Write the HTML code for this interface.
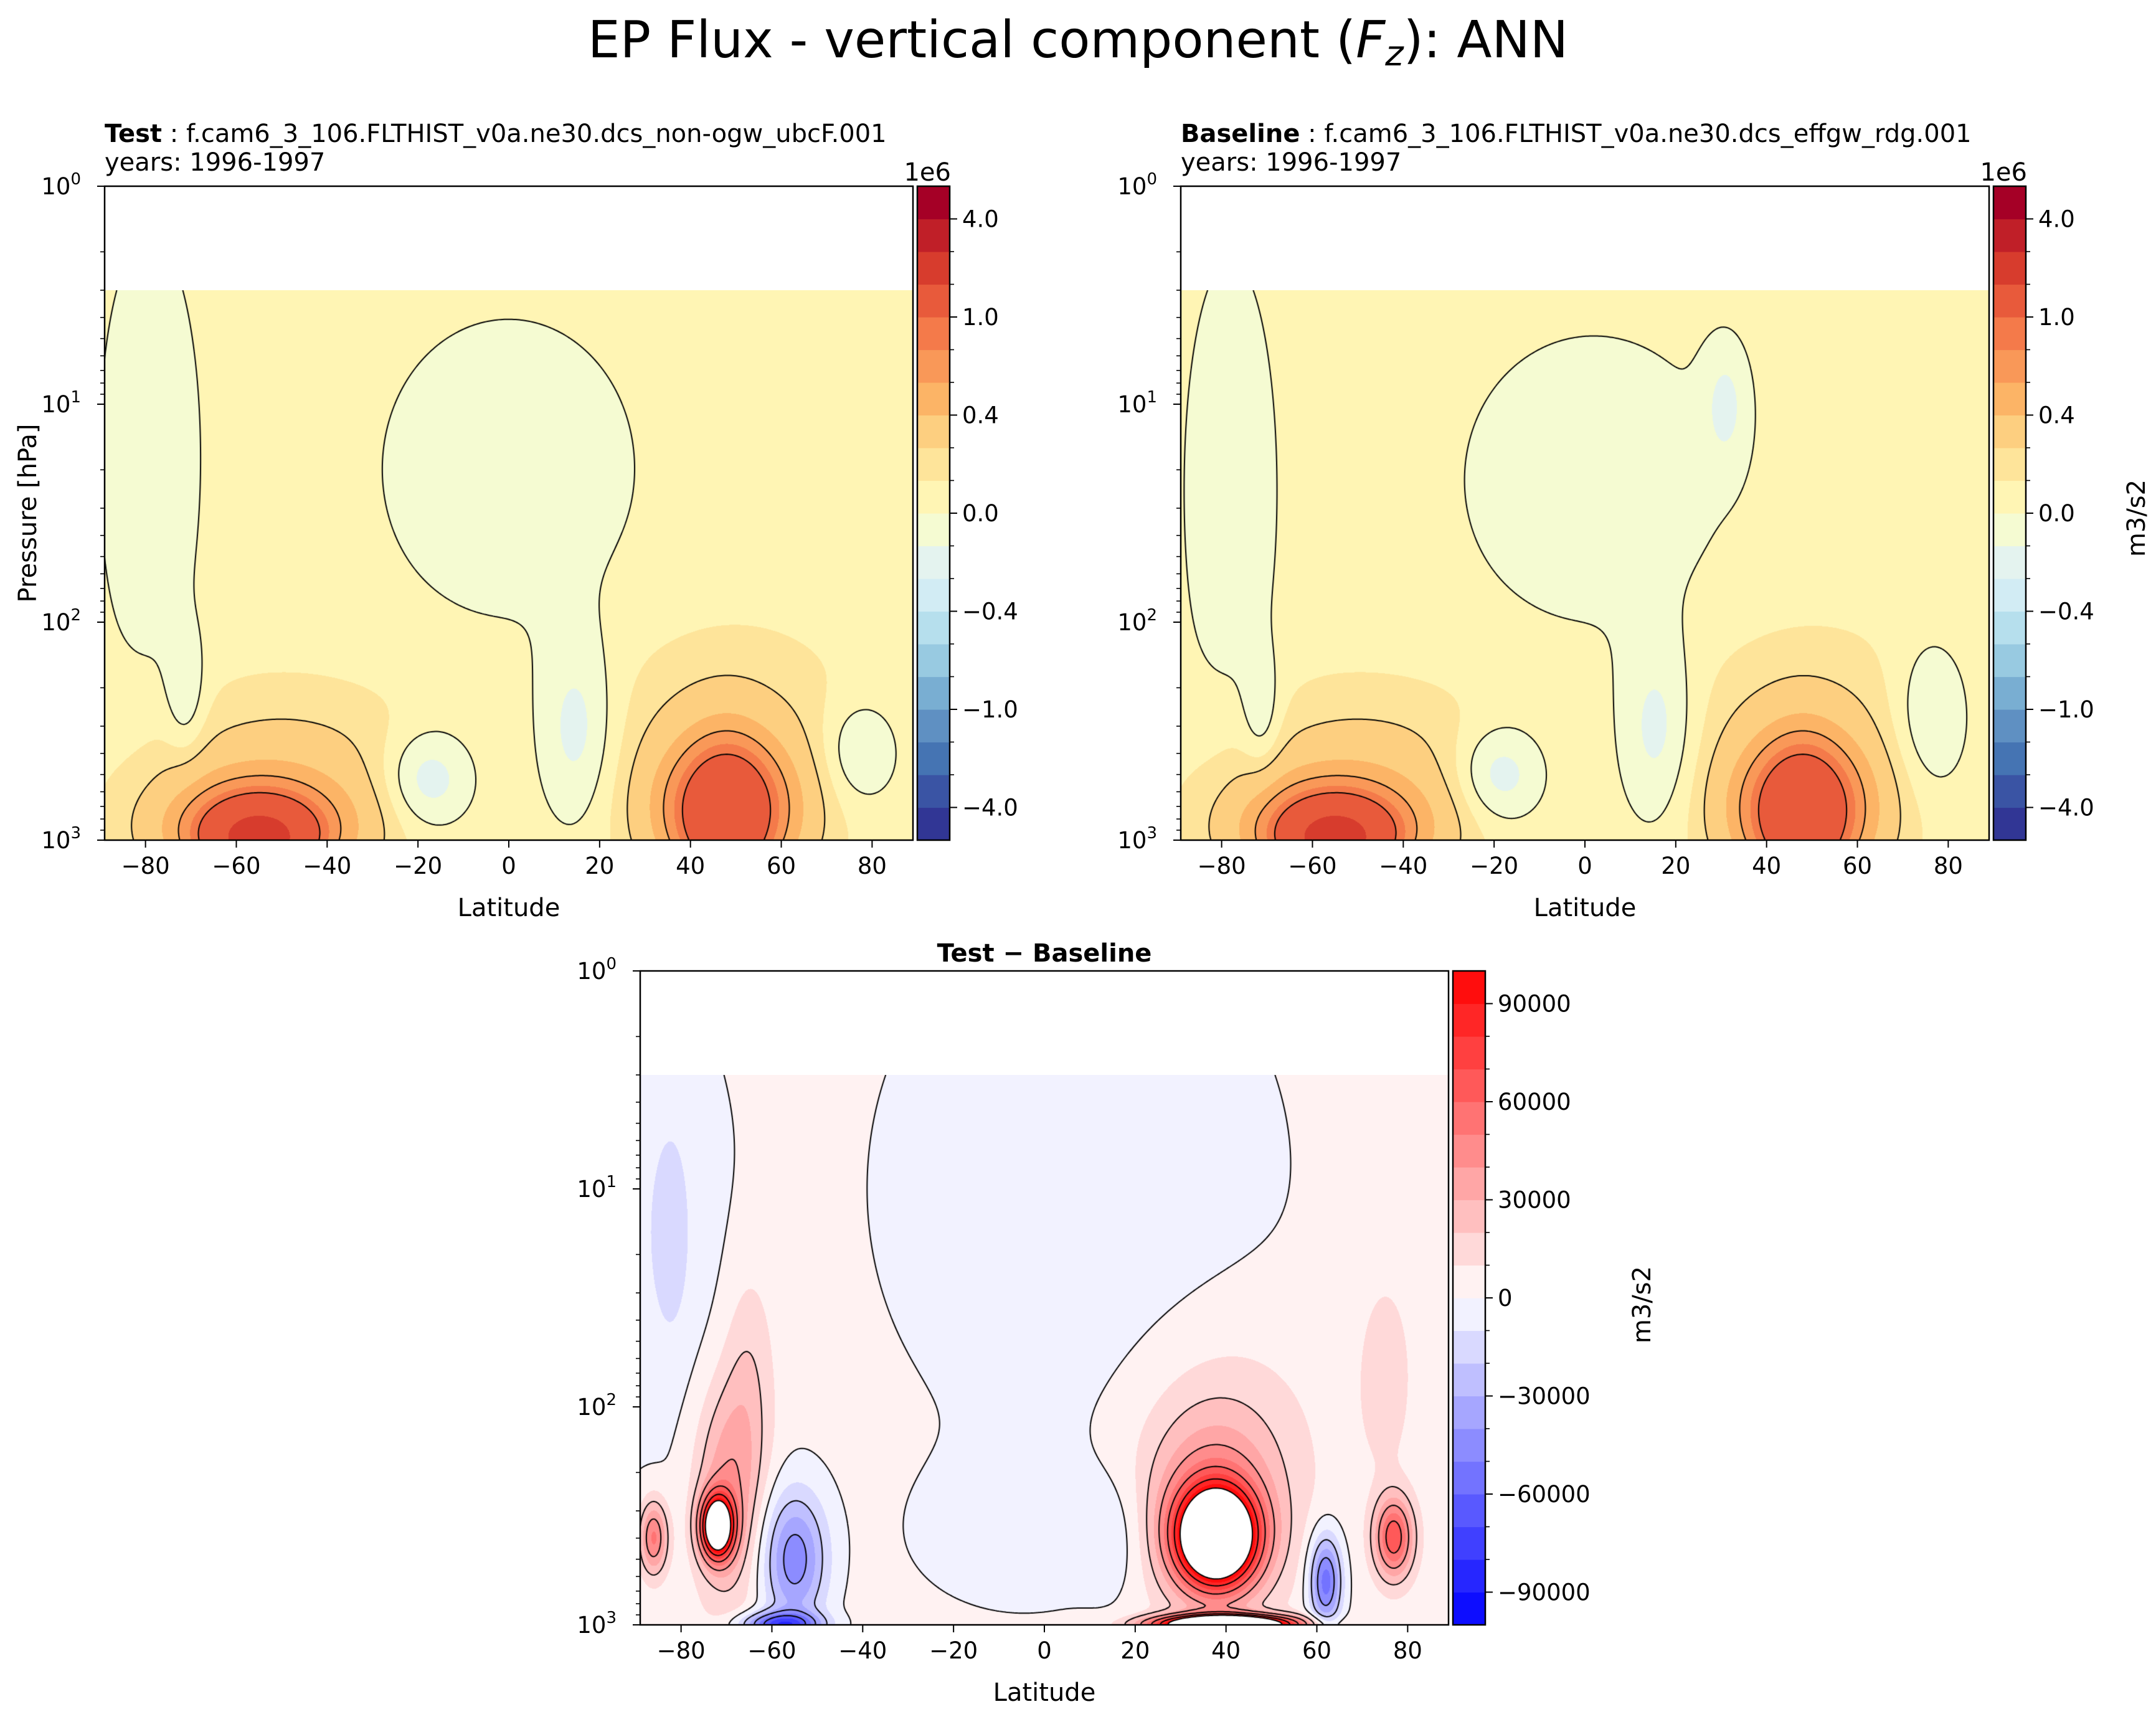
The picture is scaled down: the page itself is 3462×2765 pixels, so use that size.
<!DOCTYPE html>
<html><head><meta charset="utf-8">
<style>
html,body{margin:0;padding:0;background:#fff;}
#fig{position:relative;width:3462px;height:2765px;overflow:hidden;font-family:"DejaVu Sans","Liberation Sans",sans-serif;}
canvas{position:absolute;}
svg{position:absolute;left:0;top:0;}
</style></head>
<body>
<div id="fig">
<canvas id="c1"></canvas>
<canvas id="c2"></canvas>
<canvas id="c3"></canvas>
<svg id="ov" width="3462" height="2765"></svg>
</div>
<script>
// ---- data: Gaussian features of each field (amplitude, latitude centre/width, log10(p) centre/width)
const testBase = 0.05;
const testAmp  = [-0.12,-0.15,-0.12,-0.25,-0.2,-0.18,0.35,1.5,0.4,0.6,0.15,0.15,0.8,0.8];
const testLat  = [-79,-71,0,-18,15,77,-55,-55,48,48,-48,48,-55,48];
const testSLat = [8.4,3,21,7,6,6,17,7,13,6,22,18,12,9];
const testLp   = [1.25,2.35,1.3,2.72,2.5,2.6,2.95,3.0,2.9,2.95,2.6,2.45,2.95,2.85];
const testSLp  = [0.77,0.2,0.52,0.16,0.3,0.17,0.22,0.1,0.25,0.25,0.25,0.3,0.15,0.2];

const baseBase = 0.05;
const baseAmp  = [-0.12,-0.15,-0.12,-0.15,-0.25,-0.2,-0.18,0.35,1.5,0.4,0.6,0.15,0.15,0.8,0.8];
const baseLat  = [-78,-71,2,31,-19,16,76,-55,-55,48,48,-48,48,-55,48];
const baseSLat = [7.7,3,21.5,3.5,7,6,6,17,7,13,6,22,18,12,9];
const baseLp   = [1.4,2.45,1.35,1.0,2.7,2.5,2.45,2.95,3.0,2.9,2.95,2.6,2.45,2.95,2.85];
const baseSLp  = [0.8,0.2,0.5,0.2,0.16,0.3,0.25,0.22,0.1,0.25,0.25,0.25,0.3,0.15,0.2];

const diffBase = 4000;
const diffAmp  = [-12000,-10000,-11000,-8000,130000,35000,50000,-50000,-70000,150000,45000,200000,-60000,65000,14000,16000,12000,-9000];
const diffLat  = [-86,-82,8,-5,-72,-70,-86,-55,-58,38,37,40,62,77,75,-65,40,16];
const diffSLat = [12,2.5,33,18,2.5,5,2.2,5,6,6,10,10,2.5,3,4,4,15,5];
const diffLp   = [1.2,1.2,1.0,2.6,2.55,2.4,2.6,2.7,3.0,2.6,2.5,3.0,2.8,2.6,1.85,1.9,2.1,2.6];
const diffSLp  = [0.8,0.3,0.9,0.25,0.1,0.35,0.12,0.22,0.04,0.15,0.3,0.03,0.15,0.13,0.3,0.4,0.4,0.2];

const topBounds = [-5,-4,-3,-2,-1,-0.8,-0.6,-0.4,-0.2,-0.1,0,0.1,0.2,0.4,0.6,0.8,1,2,3,4,5];
const topColors = ['#313695','#3a54a4','#4574b3','#5f90c2','#79aed2','#98cae1','#b6dfed','#d2ecf4','#e4f3ef','#f5fbd2','#fff5b4','#fee49a','#fdcf80','#fcb466','#f99858','#f47a4a','#e85a3b','#d73c2d','#c01f28','#a50026'];
const topTickVals = [4.0,1.0,0.4,0.0,-0.4,-1.0,-4.0];
const topTickIdx  = [19,16,13,10,7,4,1];
const topContours = [0,0.2,0.6,1.0,3.0];

const diffBounds = [];
for (let i=0;i<=20;i++) diffBounds.push(-100000+10000*i);
const diffTickVals = [90000,60000,30000,0,-30000,-60000,-90000];
const diffContours = [-60000,-40000,-20000,0,20000,40000,60000,80000,100000];

const latTicks = [-80,-60,-40,-20,0,20,40,60,80];

// ---- geometry
const AW=1298, AH=1050, LAT0=-89, LAT1=89, LPTOP=0.477;
const panels = [
  {id:'c1', x:168, y:299, amp:testAmp, lat:testLat, sl:testSLat, lp:testLp, sp:testSLp, base:testBase, kind:'top'},
  {id:'c2', x:1896, y:299, amp:baseAmp, lat:baseLat, sl:baseSLat, lp:baseLp, sp:baseSLp, base:baseBase, kind:'top'},
  {id:'c3', x:1028, y:1559, amp:diffAmp, lat:diffLat, sl:diffSLat, lp:diffLp, sp:diffSLp, base:diffBase, kind:'diff'}
];
function xOf(lat){return (lat-LAT0)/(LAT1-LAT0)*AW;}
function yOf(lp){return lp/3*AH;}
function hex(h){return [parseInt(h.substr(1,2),16),parseInt(h.substr(3,2),16),parseInt(h.substr(5,2),16)];}
const topRGB = topColors.map(hex);
function diffColor(i){const v=(-95000+10000*i)/100000; if(v<0){const c=Math.round(255*(1+v));return [c,c,255];} const c=Math.round(255*(1-v)); return [255,c,c];}
function colorFor(kind,v){
  if(kind==='top'){ let i=0; while(i<19 && v>topBounds[i+1]) i++; return topRGB[i]; }
  if(v>100000||v<-100000) return [255,255,255];
  let i=Math.floor((v+100000)/10000); if(i>19)i=19; return diffColor(i);
}
function drawPanel(p){
  const cv=document.getElementById(p.id);
  const y0=Math.round(yOf(LPTOP)); const h=AH-y0;
  cv.width=AW; cv.height=h; cv.style.left=p.x+'px'; cv.style.top=(p.y+y0)+'px';
  const ctx=cv.getContext('2d');
  const n=p.amp.length;
  const fx=[],fy=[];
  for(let k=0;k<n;k++){
    const ax=new Float32Array(AW), ay=new Float32Array(h);
    for(let x=0;x<AW;x++){const la=LAT0+(x+0.5)/AW*(LAT1-LAT0); const d=(la-p.lat[k])/p.sl[k]; ax[x]=p.amp[k]*Math.exp(-0.5*d*d);}
    for(let y=0;y<h;y++){const lp=(y+y0+0.5)/AH*3; const d=(lp-p.lp[k])/p.sp[k]; ay[y]=Math.exp(-0.5*d*d);}
    fx.push(ax); fy.push(ay);
  }
  const field=(x,y)=>{let v=p.base; for(let k=0;k<n;k++) v+=fx[k][x]*fy[k][y]; return v;};
  const img=ctx.createImageData(AW,h);
  for(let y=0;y<h;y++) for(let x=0;x<AW;x++){
    const c=colorFor(p.kind,field(x,y)); const o=(y*AW+x)*4;
    img.data[o]=c[0];img.data[o+1]=c[1];img.data[o+2]=c[2];img.data[o+3]=255;
  }
  ctx.putImageData(img,0,0);
  const S=3, nx=Math.floor((AW-1)/S)+1, ny=Math.floor((h-1)/S)+1;
  const g=[]; for(let j=0;j<ny;j++){const r=new Float32Array(nx); for(let i=0;i<nx;i++) r[i]=field(i*S,j*S); g.push(r);}
  const levels = p.kind==='top'?topContours:diffContours;
  ctx.strokeStyle='#000'; ctx.lineWidth=2;
  for(const L of levels){
    ctx.beginPath();
    for(let j=0;j<ny-1;j++) for(let i=0;i<nx-1;i++){
      const a=g[j][i],b=g[j][i+1],c=g[j+1][i+1],d=g[j+1][i];
      const pts=[];
      const e=(v1,v2,x1,y1,x2,y2)=>{ if((v1<L)!==(v2<L)){const t=(L-v1)/(v2-v1); pts.push([x1+(x2-x1)*t,y1+(y2-y1)*t]);} };
      const X=i*S,Y=j*S;
      e(a,b,X,Y,X+S,Y); e(b,c,X+S,Y,X+S,Y+S); e(d,c,X,Y+S,X+S,Y+S); e(a,d,X,Y,X,Y+S);
      for(let q=0;q+1<pts.length;q+=2){ctx.moveTo(pts[q][0],pts[q][1]); ctx.lineTo(pts[q+1][0],pts[q+1][1]);}
    }
    ctx.stroke();
  }
}
panels.forEach(drawPanel);

// ---- axes overlay
const NS='http://www.w3.org/2000/svg';
const ov=document.getElementById('ov');
const FS=37, LFS=40;
function el(tag,attrs,parent){const e=document.createElementNS(NS,tag); for(const k in attrs) e.setAttribute(k,attrs[k]); (parent||ov).appendChild(e); return e;}
function txt(s,attrs,parent){const t=el('text',Object.assign({'font-size':FS,fill:'#000'},attrs),parent); t.textContent=s; return t;}

const title=txt('EP Flux - vertical component (',{x:1731,y:92,'font-size':82,'text-anchor':'middle'});


const tF=el('tspan',{'font-style':'italic'},title); tF.textContent='F';
const tz=el('tspan',{'font-style':'italic','font-size':56,dy:13},title); tz.textContent='z';
const tr=el('tspan',{dy:-13},title); tr.textContent='): ANN';

function axes(px,py,name,cbx,kind){
  const g=el('g',{});
  
  
  el('rect',{x:px,y:py,width:AW,height:AH,fill:'none',stroke:'#000','stroke-width':2.5},g);
  for(let d=0;d<=3;d++){
    const y=py+d*350;
    el('line',{x1:px-12,y1:y,x2:px,y2:y,stroke:'#000','stroke-width':2},g);
    const t=txt('10',{x:px-38,y:y+13,'text-anchor':'end'},g);
    
    
    const s=el('tspan',{'font-size':26,dy:-16},t); s.textContent=String(d);
    if(d<3) for(let m=2;m<=9;m++){const yy=y+Math.log10(m)*350; el('line',{x1:px-7,y1:yy,x2:px,y2:yy,stroke:'#000','stroke-width':1.6},g);}
  }
  for(const la of latTicks){
    const x=px+xOf(la);
    el('line',{x1:x,y1:py+AH,x2:x,y2:py+AH+12,stroke:'#000','stroke-width':2},g);
    const t=txt(la<0?'\u2212'+(-la):String(la),{x:x,y:py+AH+54,'text-anchor':'middle'},g);
    
    
  }
  const xl=txt('Latitude',{x:px+AW/2,y:py+AH+122,'text-anchor':'middle','font-size':LFS},g);
  
  
  const cw=52, bh=AH/20;
  const cb=el('g',{},g);
  
  
  for(let i=0;i<20;i++){
    const c = kind==='top'?topColors[i]:('rgb('+diffColor(i).join(',')+')');
    el('rect',{x:cbx,y:py+AH-(i+1)*bh,width:cw,height:bh+0.6,fill:c},cb);
    if(i>0) el('line',{x1:cbx+cw,y1:py+AH-i*bh,x2:cbx+cw+7,y2:py+AH-i*bh,stroke:'#000','stroke-width':1.6},cb);
  }
  el('rect',{x:cbx,y:py,width:cw,height:AH,fill:'none',stroke:'#000','stroke-width':2.5},cb);
  const vals = kind==='top'?topTickVals:diffTickVals;
  vals.forEach((v,k)=>{
    const idx = kind==='top'?topTickIdx[k]:(v+100000)/10000;
    const y=py+AH-idx*bh;
    el('line',{x1:cbx+cw,y1:y,x2:cbx+cw+12,y2:y,stroke:'#000','stroke-width':2},cb);
    const s = kind==='top'? (v<0?'\u2212'+(-v).toFixed(1):v.toFixed(1)) : (v<0?'\u2212'+(-v):String(v));
    const t=txt(s,{x:cbx+cw+20,y:y+13},cb);
    
    
  });
  return g;
}
axes(168,299,'test-panel',1473,'top');
axes(1896,299,'baseline-panel',3201,'top');
axes(1028,1559,'difference-panel',2333,'diff');

function label(s,x,y,name,extra){const t=txt(s,Object.assign({x:x,y:y,'font-size':LFS},extra||{}));   return t;}
const t1=label('',168,228,'test-title'); let b=el('tspan',{'font-weight':'bold'},t1); b.textContent='Test'; let r=el('tspan',{},t1); r.textContent=' : f.cam6_3_106.FLTHIST_v0a.ne30.dcs_non-ogw_ubcF.001';
label('years: 1996-1997',168,274,'test-years');
const t2=label('',1896,228,'baseline-title'); b=el('tspan',{'font-weight':'bold'},t2); b.textContent='Baseline'; r=el('tspan',{},t2); r.textContent=' : f.cam6_3_106.FLTHIST_v0a.ne30.dcs_effgw_rdg.001';
label('years: 1996-1997',1896,274,'baseline-years');
label('1e6',1527,290,'colorbar-offset',{'text-anchor':'end'});
label('1e6',3255,290,'colorbar-offset-baseline',{'text-anchor':'end'});
label('Pressure [hPa]',0,0,'y-axis-title',{transform:'translate(58,824) rotate(-90)','text-anchor':'middle'});
label('m3/s2',0,0,'colorbar-units',{transform:'translate(3444,832) rotate(-90)','text-anchor':'middle'});
label('m3/s2',0,0,'colorbar-units-diff',{transform:'translate(2650,2095) rotate(-90)','text-anchor':'middle'});
label('Test \u2212 Baseline',1677,1544,'difference-title',{'text-anchor':'middle','font-weight':'bold'});
</script>
</body></html>
